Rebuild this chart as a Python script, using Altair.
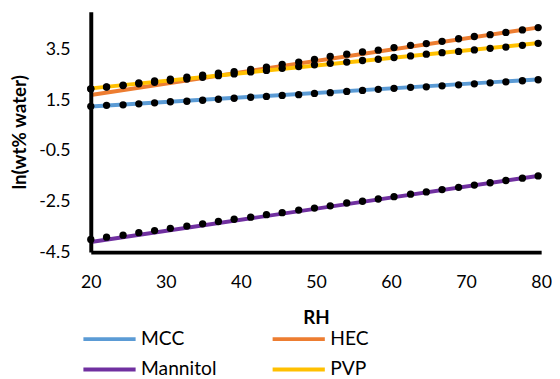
import altair as alt
import pandas as pd

series = ["MCC", "HEC", "Mannitol", "PVP"]
colors = ["#5B9BD5", "#ED7D31", "#7030A0", "#FFC000"]

rh = [20.0, 22.1, 24.3, 26.4, 28.5, 30.6, 32.8, 34.9, 37.0, 39.1, 41.3, 43.4,
      45.5, 47.7, 49.8, 51.9, 54.1, 56.2, 58.3, 60.4, 62.6, 64.7, 66.8, 69.0,
      71.1, 73.2, 75.3, 77.5, 79.6]

mcc = [1.26, 1.30, 1.32, 1.36, 1.40, 1.44, 1.46, 1.50, 1.54, 1.58, 1.62, 1.65,
       1.69, 1.72, 1.77, 1.80, 1.85, 1.89, 1.93, 1.97, 2.01, 2.03, 2.07, 2.11,
       2.15, 2.19, 2.23, 2.27, 2.31]
hec = [1.95, 2.03, 2.10, 2.19, 2.26, 2.33, 2.41, 2.49, 2.57, 2.63, 2.72, 2.81,
       2.92, 3.01, 3.11, 3.23, 3.32, 3.41, 3.48, 3.58, 3.67, 3.74, 3.83, 3.93,
       4.02, 4.09, 4.18, 4.28, 4.37]
mannitol = [-4.00, -3.91, -3.83, -3.73, -3.65, -3.56, -3.47, -3.38, -3.29, -3.20,
            -3.12, -3.02, -2.94, -2.84, -2.76, -2.67, -2.56, -2.49, -2.40, -2.31,
            -2.21, -2.12, -2.03, -1.94, -1.85, -1.76, -1.67, -1.58, -1.49]
pvp = [1.95, 2.02, 2.08, 2.15, 2.21, 2.28, 2.34, 2.41, 2.47, 2.54, 2.62, 2.68,
       2.76, 2.83, 2.90, 2.96, 3.01, 3.07, 3.12, 3.19, 3.25, 3.32, 3.38, 3.43,
       3.49, 3.55, 3.60, 3.67, 3.75]

trend_rh = [20, 80]
trend_start = [1.25, 1.71, -4.10, 1.97]
trend_end = [2.33, 4.39, -1.47, 3.77]

x_ticks = [20, 30, 40, 50, 60, 70, 80]
y_ticks = [-4.5, -2.5, -0.5, 1.5, 3.5]

pts = pd.DataFrame({
    "series": sum([[s] * len(rh) for s in series], []),
    "RH": rh * 4,
    "val": mcc + hec + mannitol + pvp,
})
trend = pd.DataFrame({
    "series": series * 2,
    "RH": [trend_rh[0]] * 4 + [trend_rh[1]] * 4,
    "val": trend_start + trend_end,
})

FONT = "Lato"

x_enc = alt.X("RH:Q",
              scale=alt.Scale(domain=[20, 80], nice=False, zero=False),
              axis=alt.Axis(values=x_ticks, title="RH", grid=False, tickSize=0,
                            labelPadding=22, labelFlush=False, domainColor="black",
                            domainWidth=4, labelFont=FONT, labelFontSize=18,
                            labelColor="black", titleFont=FONT, titleFontSize=19,
                            titleFontWeight="bold", titleColor="black",
                            titlePadding=17, zindex=1))
y_enc = alt.Y("val:Q",
              scale=alt.Scale(domain=[-4.5, 5], nice=False, zero=False),
              axis=alt.Axis(values=y_ticks, title="ln(wt% water)", grid=False,
                            tickSize=0, labelPadding=21, domainColor="black",
                            domainWidth=4, labelFont=FONT, labelFontSize=18,
                            labelColor="black", titleFont=FONT, titleFontSize=19,
                            titleFontWeight="bold", titleColor="black",
                            titlePadding=9.5, zindex=1,
                            labelExpr="(datum.value < 0 ? '-' : '') + format(abs(datum.value), '.1f')"))

lines = alt.Chart(trend).mark_line(strokeWidth=4, clip=True).encode(
    x=x_enc, y=y_enc,
    color=alt.Color("series:N", sort=series,
                    scale=alt.Scale(domain=series, range=colors),
                    legend=alt.Legend(title=None, orient="none", legendX=6, legendY=319,
                                      columns=2, direction="horizontal",
                                      symbolType="M-2.5,0L2.5,0",
                                      symbolSize=449, symbolStrokeWidth=4,
                                      labelOffset=19, rowPadding=8, columnPadding=48,
                                      labelFont=FONT, labelFontSize=19.5,
                                      labelColor="black", padding=0)),
    detail="series:N",
)

points = alt.Chart(pts).mark_circle(size=55, color="black", opacity=1).encode(
    x="RH:Q", y="val:Q", detail="series:N"
)

chart = alt.layer(lines, points).properties(
    width=457, height=244,
    autosize=alt.AutoSizeParams(type="none"),
    padding={"left": 84, "top": 1, "right": 11, "bottom": 125},
).configure_view(stroke=None)

chart.save("out.html", embed_options={"renderer": "svg", "actions": False})
